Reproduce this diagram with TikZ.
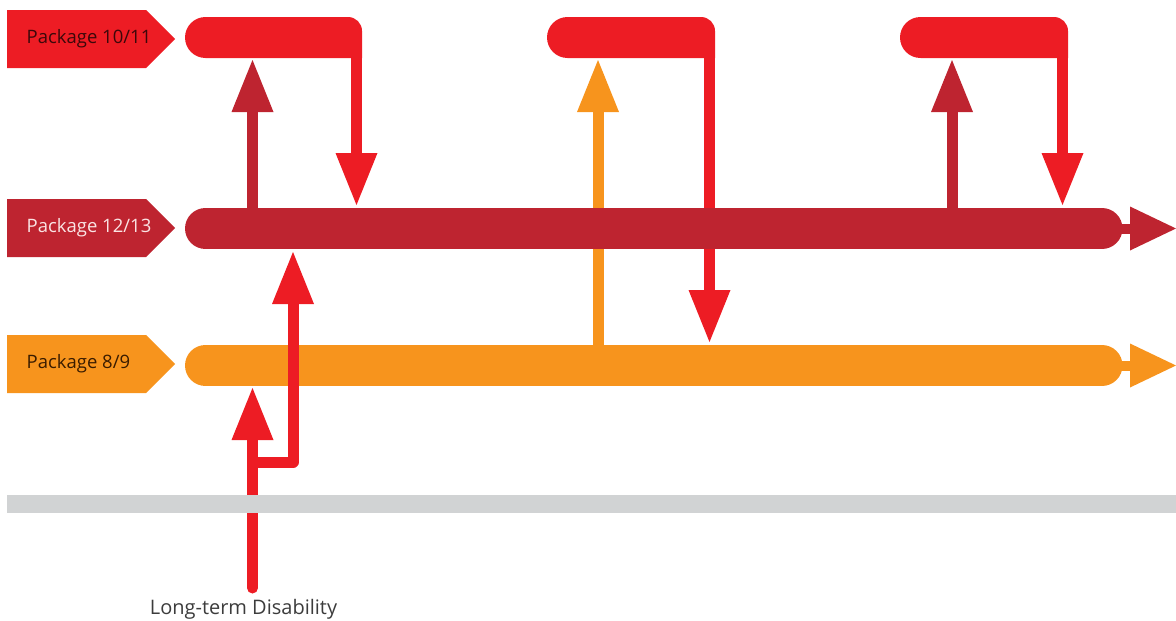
\documentclass[tikz,border=0pt]{standalone}
\usepackage{fontspec}
\setmainfont{Open Sans}
\usetikzlibrary{arrows.meta,shapes.symbols}
\definecolor{pkgred}{HTML}{ED1C24}
\definecolor{pkgdark}{HTML}{BE2430}
\definecolor{pkgorange}{HTML}{F7941D}
\definecolor{bandgray}{HTML}{D1D3D4}
\definecolor{txtgray}{HTML}{3C3C3C}
\newcommand{\tagtext}[1]{\makebox[130pt][l]{\hspace*{15pt}#1}}
\tikzset{
  tag/.style={signal, signal to=east, signal pointer angle=90, minimum width=168pt,
    minimum height=58pt, inner sep=0pt, anchor=west, font=\fontsize{18.5pt}{22pt}\selectfont},
  flow/.style={line width=11pt, line join=round,
    -{Triangle[width=42pt,length=52pt,line width=0pt]}},
  lane/.style={line width=41pt, line cap=round},
  lanetip/.style={line width=10pt, -{Triangle[width=44pt,length=46pt,line width=0pt]}},
}
\begin{document}
\begin{tikzpicture}[x=1pt, y=1pt]
  \useasboundingbox (0,0) rectangle (1176,-621);
  % lane ends
  \coordinate (L89) at (205.5,-365.5);
  \coordinate (R89) at (1102,-365.5);
  \coordinate (E89) at (1176,-365.5);
  \coordinate (L1213) at (205.5,-228.5);
  \coordinate (R1213) at (1102,-228.5);
  \coordinate (E1213) at (1176,-228.5);
  % connector ends
  \coordinate (down1) at (356.5,-50);
  \coordinate (down1t) at (356.5,-205);
  \coordinate (down2) at (709.5,-50);
  \coordinate (down2t) at (709.5,-342);
  \coordinate (down3) at (1062.5,-50);
  \coordinate (down3t) at (1062.5,-205);
  \coordinate (up1) at (252.5,-228);
  \coordinate (up1t) at (252.5,-60);
  \coordinate (up2) at (598,-365);
  \coordinate (up2t) at (598,-60);
  \coordinate (up3) at (952,-228);
  \coordinate (up3t) at (952,-60);
  \coordinate (ltd) at (252.5,-588);
  \coordinate (ltdt) at (252.5,-388);
  \coordinate (fork) at (252.5,-462);
  \coordinate (bend) at (293,-462);
  \coordinate (forkt) at (293,-252);

  % package 8/9 lane
  \draw[lane, pkgorange] (L89) -- (R89);
  \draw[lanetip, pkgorange] (R89) -- (E89);

  % package 10/11 bars
  \fill[pkgred] (351,-58) -- (205.5,-58) arc[start angle=270, end angle=90, radius=20.5]
    -- (348,-17) arc[start angle=90, end angle=0, radius=14] -- (362,-58) -- cycle;
  \fill[pkgred] (704,-58) -- (567.5,-58) arc[start angle=270, end angle=90, radius=20.5]
    -- (701,-17) arc[start angle=90, end angle=0, radius=14] -- (715,-58) -- cycle;
  \fill[pkgred] (1057,-58) -- (920.5,-58) arc[start angle=270, end angle=90, radius=20.5]
    -- (1054,-17) arc[start angle=90, end angle=0, radius=14] -- (1068,-58) -- cycle;

  % transitions
  \draw[flow, pkgred] (down1) -- (down1t);
  \draw[flow, pkgred] (down2) -- (down2t);
  \draw[flow, pkgred] (down3) -- (down3t);
  \draw[flow, pkgdark] (up1) -- (up1t);
  \draw[flow, pkgorange] (up2) -- (up2t);
  \draw[flow, pkgdark] (up3) -- (up3t);
  \draw[flow, pkgred, line cap=round] (ltd) -- (ltdt);
  \draw[flow, pkgred] (fork) -- (bend) -- (forkt);

  % package 12/13 lane
  \draw[lane, pkgdark] (L1213) -- (R1213);
  \draw[lanetip, pkgdark] (R1213) -- (E1213);

  \fill[bandgray] (7,-495) rectangle (1176,-513);

  \node[tag, fill=pkgred, text={rgb,255:red,60;green,8;blue,10}] (p1011) at (7,-39) {\tagtext{Package 10/11}};
  \node[tag, fill=pkgdark, text={rgb,255:red,250;green,228;blue,228}] (p1213) at (7,-228) {\tagtext{Package 12/13}};
  \node[tag, fill=pkgorange, text={rgb,255:red,58;green,28;blue,0}] (p89) at (7,-364) {\tagtext{Package 8/9}};
  \node[anchor=base, text=txtgray, font=\fontsize{20pt}{24pt}\selectfont] (ltdlab)
    at (243.5,-614) {Long-term Disability};
\end{tikzpicture}
\end{document}
